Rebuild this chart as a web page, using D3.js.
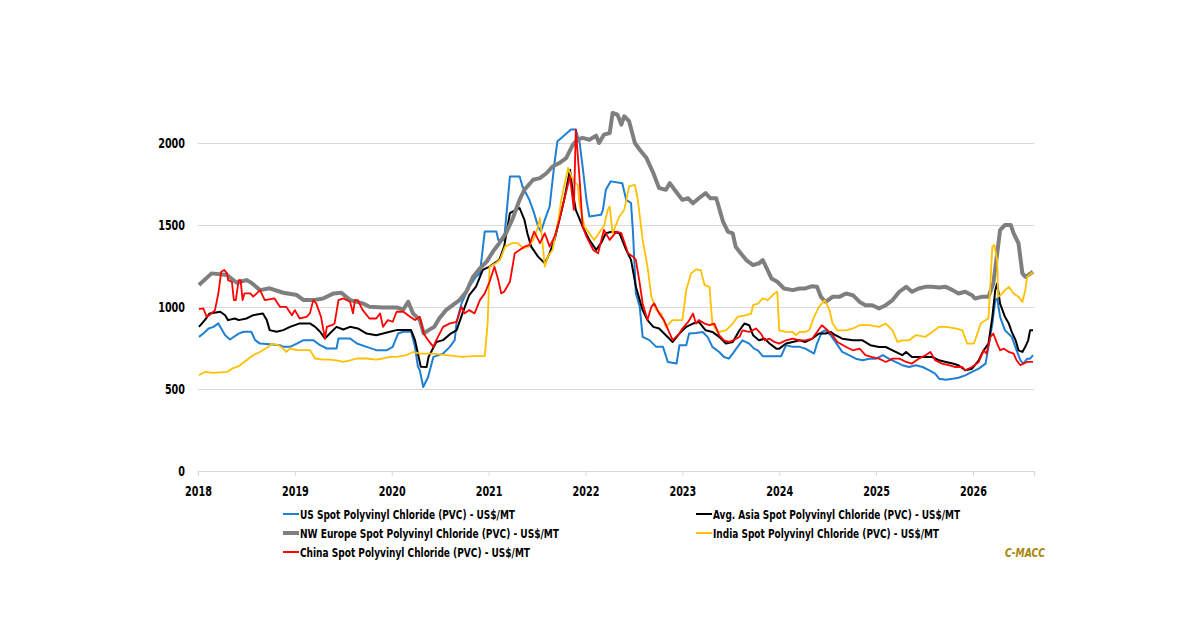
<!DOCTYPE html>
<html><head><meta charset="utf-8">
<script src="https://cdn.jsdelivr.net/npm/d3@7"></script>
<style>
html,body{margin:0;padding:0;background:#fff;}
text{font-family:"Liberation Sans Narrow","DejaVu Sans Condensed","Arial Narrow",sans-serif;font-weight:bold;}
</style></head>
<body><svg id="c" width="1200" height="627"></svg>
<script>
const yearTicks = [2018,2019,2020,2021,2022,2023,2024,2025,2026];
const valueTicks = [0,500,1000,1500,2000];
const seriesNames = [
  "US Spot Polyvinyl Chloride (PVC) - US$/MT",
  "Avg. Asia Spot Polyvinyl Chloride (PVC) - US$/MT",
  "NW Europe Spot Polyvinyl Chloride (PVC) - US$/MT",
  "India Spot Polyvinyl Chloride (PVC) - US$/MT",
  "China Spot Polyvinyl Chloride (PVC) - US$/MT"
];
const usSpot = [[2018.01,818],[2018.055,838],[2018.11,869],[2018.16,879],[2018.21,900],[2018.24,869],[2018.28,828],[2018.33,802],[2018.36,814],[2018.42,838],[2018.47,849],[2018.55,849],[2018.59,798],[2018.64,777],[2018.74,773],[2018.845,767],[2018.88,757],[2018.95,757],[2019.02,777],[2019.09,798],[2019.19,798],[2019.26,767],[2019.33,747],[2019.43,747],[2019.45,808],[2019.57,808],[2019.64,777],[2019.74,757],[2019.84,737],[2019.95,737],[2020.01,757],[2020.065,838],[2020.12,849],[2020.20,849],[2020.24,757],[2020.27,635],[2020.29,614],[2020.325,512],[2020.375,573],[2020.43,696],[2020.53,716],[2020.60,757],[2020.65,798],[2020.67,910],[2020.72,1022],[2020.80,1124],[2020.87,1185],[2020.91,1205],[2020.96,1460],[2021.08,1460],[2021.10,1409],[2021.16,1409],[2021.22,1796],[2021.32,1796],[2021.35,1735],[2021.42,1654],[2021.47,1572],[2021.51,1491],[2021.54,1460],[2021.58,1531],[2021.63,1613],[2021.68,1878],[2021.71,2010],[2021.73,2020],[2021.85,2082],[2021.90,2082],[2021.94,2000],[2021.97,1857],[2022.01,1654],[2022.04,1552],[2022.16,1562],[2022.18,1592],[2022.21,1715],[2022.26,1766],[2022.38,1755],[2022.42,1654],[2022.47,1633],[2022.49,1460],[2022.52,1083],[2022.56,1001],[2022.59,818],[2022.66,798],[2022.73,757],[2022.80,757],[2022.85,665],[2022.94,655],[2022.97,767],[2023.04,767],[2023.07,838],[2023.14,842],[2023.21,848],[2023.26,818],[2023.31,757],[2023.38,726],[2023.43,695],[2023.48,685],[2023.52,716],[2023.57,757],[2023.62,797],[2023.69,777],[2023.74,746],[2023.78,736],[2023.83,700],[2023.93,700],[2024.02,700],[2024.07,767],[2024.14,757],[2024.21,757],[2024.27,746],[2024.36,716],[2024.39,777],[2024.44,848],[2024.48,858],[2024.53,828],[2024.58,787],[2024.65,726],[2024.72,706],[2024.79,685],[2024.86,675],[2024.93,685],[2025.00,685],[2025.07,706],[2025.13,685],[2025.20,665],[2025.27,645],[2025.34,634],[2025.41,645],[2025.48,634],[2025.55,614],[2025.61,594],[2025.65,563],[2025.72,557],[2025.79,563],[2025.85,569],[2025.92,583],[2025.99,604],[2026.06,624],[2026.13,655],[2026.16,757],[2026.20,899],[2026.23,1042],[2026.25,1052],[2026.28,940],[2026.33,858],[2026.40,818],[2026.45,736],[2026.49,675],[2026.52,655],[2026.56,685],[2026.59,685],[2026.62,706]];
const asiaSpot = [[2018.01,879],[2018.07,920],[2018.12,961],[2018.23,971],[2018.28,950],[2018.31,920],[2018.38,930],[2018.42,920],[2018.50,930],[2018.57,950],[2018.67,961],[2018.71,920],[2018.74,859],[2018.81,849],[2018.88,859],[2018.95,879],[2019.05,900],[2019.155,900],[2019.21,879],[2019.26,849],[2019.31,808],[2019.36,838],[2019.43,879],[2019.50,863],[2019.57,879],[2019.65,869],[2019.74,838],[2019.84,828],[2019.91,838],[2019.98,849],[2020.05,859],[2020.15,859],[2020.20,859],[2020.24,798],[2020.27,716],[2020.30,635],[2020.36,634],[2020.38,696],[2020.46,787],[2020.53,798],[2020.61,838],[2020.67,859],[2020.73,961],[2020.80,1073],[2020.87,1124],[2020.94,1226],[2021.01,1246],[2021.11,1287],[2021.16,1368],[2021.22,1572],[2021.28,1592],[2021.32,1603],[2021.37,1531],[2021.40,1450],[2021.44,1368],[2021.51,1307],[2021.58,1266],[2021.63,1328],[2021.68,1409],[2021.73,1531],[2021.78,1654],[2021.84,1837],[2021.87,1694],[2021.90,1592],[2021.97,1491],[2022.04,1409],[2022.11,1348],[2022.16,1389],[2022.21,1450],[2022.28,1460],[2022.35,1450],[2022.42,1348],[2022.47,1287],[2022.52,1124],[2022.59,981],[2022.64,920],[2022.70,879],[2022.76,869],[2022.83,828],[2022.90,787],[2022.97,838],[2023.04,879],[2023.11,899],[2023.17,909],[2023.24,858],[2023.31,848],[2023.38,818],[2023.45,777],[2023.52,787],[2023.59,858],[2023.64,899],[2023.69,889],[2023.73,828],[2023.79,797],[2023.85,807],[2023.90,777],[2023.97,746],[2024.00,746],[2024.07,777],[2024.14,787],[2024.21,797],[2024.27,787],[2024.34,807],[2024.41,838],[2024.48,838],[2024.53,848],[2024.58,828],[2024.65,807],[2024.76,797],[2024.86,797],[2024.94,767],[2025.03,756],[2025.10,756],[2025.17,736],[2025.27,706],[2025.31,726],[2025.37,695],[2025.48,695],[2025.58,695],[2025.65,675],[2025.72,665],[2025.79,655],[2025.85,645],[2025.92,614],[2025.99,624],[2026.06,675],[2026.11,736],[2026.16,777],[2026.20,940],[2026.23,1103],[2026.25,1143],[2026.28,1021],[2026.33,940],[2026.37,899],[2026.40,848],[2026.44,797],[2026.47,736],[2026.51,726],[2026.54,757],[2026.57,797],[2026.59,858],[2026.62,858]];
const nweSpot = [[2018.01,1134],[2018.14,1205],[2018.30,1195],[2018.40,1148],[2018.50,1164],[2018.55,1148],[2018.64,1103],[2018.74,1114],[2018.88,1087],[2019.02,1073],[2019.09,1042],[2019.19,1042],[2019.29,1052],[2019.40,1083],[2019.48,1087],[2019.57,1042],[2019.70,1022],[2019.77,1001],[2019.91,997],[2020.05,997],[2020.12,985],[2020.17,1032],[2020.22,961],[2020.29,920],[2020.33,838],[2020.38,859],[2020.44,879],[2020.49,930],[2020.56,981],[2020.63,1012],[2020.70,1042],[2020.77,1093],[2020.84,1185],[2020.91,1236],[2020.98,1277],[2021.045,1338],[2021.11,1389],[2021.18,1450],[2021.25,1541],[2021.32,1654],[2021.37,1715],[2021.46,1776],[2021.53,1786],[2021.60,1817],[2021.66,1857],[2021.73,1878],[2021.80,1908],[2021.87,1990],[2021.92,2020],[2021.97,2031],[2022.04,2020],[2022.11,2045],[2022.14,2000],[2022.19,2051],[2022.25,2061],[2022.28,2183],[2022.33,2173],[2022.37,2112],[2022.40,2163],[2022.45,2133],[2022.51,2000],[2022.56,1959],[2022.63,1908],[2022.70,1817],[2022.76,1725],[2022.83,1715],[2022.87,1755],[2022.92,1715],[2023.00,1653],[2023.06,1663],[2023.11,1632],[2023.17,1663],[2023.24,1694],[2023.29,1663],[2023.35,1663],[2023.38,1602],[2023.42,1520],[2023.47,1459],[2023.52,1449],[2023.55,1368],[2023.59,1337],[2023.66,1286],[2023.73,1256],[2023.79,1266],[2023.83,1286],[2023.88,1225],[2023.92,1174],[2023.98,1154],[2024.05,1113],[2024.14,1103],[2024.21,1113],[2024.27,1113],[2024.34,1127],[2024.39,1123],[2024.43,1062],[2024.48,1031],[2024.55,1062],[2024.62,1062],[2024.69,1082],[2024.76,1072],[2024.83,1031],[2024.89,1011],[2024.96,1011],[2025.03,991],[2025.10,1011],[2025.17,1042],[2025.24,1093],[2025.31,1123],[2025.37,1093],[2025.44,1113],[2025.51,1123],[2025.58,1123],[2025.65,1119],[2025.72,1123],[2025.79,1103],[2025.85,1082],[2025.92,1093],[2025.99,1072],[2026.02,1052],[2026.09,1062],[2026.16,1062],[2026.21,1143],[2026.25,1327],[2026.28,1469],[2026.33,1500],[2026.39,1500],[2026.42,1449],[2026.47,1388],[2026.51,1205],[2026.54,1184],[2026.57,1194],[2026.62,1215]];
const indiaSpot = [[2018.01,584],[2018.07,604],[2018.16,598],[2018.30,604],[2018.35,624],[2018.42,639],[2018.50,675],[2018.57,706],[2018.64,726],[2018.725,757],[2018.76,775],[2018.83,767],[2018.88,747],[2018.91,726],[2018.95,747],[2019.02,737],[2019.09,737],[2019.155,737],[2019.21,686],[2019.29,679],[2019.36,679],[2019.43,675],[2019.50,665],[2019.57,675],[2019.64,686],[2019.74,686],[2019.84,679],[2019.91,686],[2019.98,696],[2020.05,696],[2020.15,706],[2020.22,726],[2020.29,716],[2020.43,716],[2020.56,706],[2020.73,696],[2020.84,700],[2020.96,700],[2020.99,900],[2021.01,1246],[2021.08,1270],[2021.12,1290],[2021.17,1368],[2021.24,1389],[2021.30,1389],[2021.36,1358],[2021.41,1368],[2021.46,1409],[2021.50,1470],[2021.53,1543],[2021.55,1430],[2021.58,1246],[2021.61,1307],[2021.66,1348],[2021.72,1531],[2021.75,1654],[2021.82,1848],[2021.86,1790],[2021.89,1757],[2021.92,1745],[2021.94,1620],[2021.99,1491],[2022.04,1450],[2022.09,1409],[2022.16,1470],[2022.19,1491],[2022.23,1592],[2022.25,1613],[2022.28,1450],[2022.35,1552],[2022.40,1592],[2022.45,1735],[2022.51,1745],[2022.54,1654],[2022.59,1409],[2022.64,1246],[2022.68,1063],[2022.73,981],[2022.78,961],[2022.83,879],[2022.90,920],[2023.00,920],[2023.04,1103],[2023.09,1205],[2023.14,1229],[2023.19,1225],[2023.23,1133],[2023.28,1123],[2023.31,899],[2023.35,858],[2023.38,848],[2023.45,858],[2023.52,899],[2023.57,940],[2023.66,950],[2023.71,960],[2023.73,1011],[2023.78,1021],[2023.83,1052],[2023.88,1042],[2023.95,1082],[2023.98,1093],[2024.00,858],[2024.07,848],[2024.14,848],[2024.17,828],[2024.21,848],[2024.27,848],[2024.31,858],[2024.36,940],[2024.41,1001],[2024.47,1042],[2024.52,980],[2024.55,899],[2024.60,858],[2024.69,858],[2024.76,869],[2024.83,889],[2024.93,889],[2025.03,879],[2025.10,899],[2025.17,858],[2025.22,787],[2025.27,797],[2025.34,797],[2025.41,828],[2025.51,818],[2025.58,848],[2025.65,879],[2025.72,879],[2025.82,869],[2025.89,858],[2025.94,777],[2026.01,777],[2026.04,828],[2026.08,899],[2026.13,920],[2026.16,930],[2026.20,1368],[2026.22,1378],[2026.25,1286],[2026.26,1062],[2026.30,1082],[2026.33,1103],[2026.37,1123],[2026.42,1082],[2026.47,1062],[2026.51,1031],[2026.54,1103],[2026.56,1184],[2026.62,1215]];
const chinaSpot = [[2018.01,987],[2018.055,991],[2018.09,940],[2018.14,961],[2018.175,981],[2018.21,1083],[2018.24,1215],[2018.27,1226],[2018.30,1205],[2018.31,1164],[2018.35,1154],[2018.37,1042],[2018.39,1042],[2018.42,1164],[2018.44,1164],[2018.46,1042],[2018.48,1083],[2018.54,1083],[2018.57,1063],[2018.64,1103],[2018.69,1042],[2018.79,1052],[2018.845,1001],[2018.91,1001],[2018.97,950],[2019.00,981],[2019.05,930],[2019.12,940],[2019.155,961],[2019.19,1042],[2019.22,1022],[2019.27,940],[2019.31,808],[2019.33,879],[2019.38,889],[2019.41,900],[2019.45,1042],[2019.50,1052],[2019.57,1032],[2019.60,961],[2019.62,1042],[2019.65,1042],[2019.70,981],[2019.77,930],[2019.84,930],[2019.88,961],[2019.91,879],[2019.96,920],[2020.01,910],[2020.05,971],[2020.12,971],[2020.19,940],[2020.24,920],[2020.29,940],[2020.33,838],[2020.375,798],[2020.43,757],[2020.46,798],[2020.53,879],[2020.60,900],[2020.67,910],[2020.72,1001],[2020.75,961],[2020.80,981],[2020.855,961],[2020.91,1042],[2020.96,1083],[2021.01,1154],[2021.06,1246],[2021.10,1164],[2021.13,1083],[2021.16,1093],[2021.22,1154],[2021.27,1328],[2021.32,1348],[2021.37,1368],[2021.42,1378],[2021.47,1460],[2021.53,1389],[2021.58,1450],[2021.63,1368],[2021.68,1429],[2021.73,1531],[2021.78,1654],[2021.84,1796],[2021.88,1592],[2021.90,2082],[2021.94,1776],[2021.97,1491],[2022.01,1429],[2022.08,1348],[2022.13,1328],[2022.19,1470],[2022.25,1409],[2022.32,1460],[2022.37,1450],[2022.44,1328],[2022.49,1307],[2022.52,1287],[2022.56,1144],[2022.59,1022],[2022.64,920],[2022.68,1001],[2022.71,1022],[2022.76,961],[2022.81,920],[2022.87,838],[2022.90,798],[2022.97,838],[2023.00,869],[2023.06,909],[2023.11,960],[2023.14,899],[2023.17,920],[2023.23,899],[2023.28,889],[2023.33,899],[2023.38,828],[2023.43,797],[2023.48,787],[2023.53,797],[2023.59,818],[2023.62,858],[2023.69,848],[2023.76,869],[2023.81,838],[2023.85,797],[2023.90,807],[2023.95,787],[2024.00,777],[2024.07,797],[2024.14,807],[2024.21,797],[2024.27,797],[2024.34,807],[2024.39,848],[2024.44,889],[2024.50,858],[2024.55,828],[2024.60,787],[2024.69,756],[2024.76,736],[2024.83,746],[2024.89,706],[2024.96,695],[2025.03,685],[2025.10,665],[2025.17,685],[2025.24,685],[2025.31,665],[2025.37,655],[2025.44,685],[2025.51,706],[2025.56,726],[2025.61,675],[2025.68,655],[2025.75,645],[2025.82,634],[2025.89,634],[2025.92,614],[2025.99,634],[2026.06,665],[2026.11,736],[2026.14,716],[2026.18,818],[2026.21,838],[2026.25,777],[2026.28,736],[2026.32,746],[2026.37,726],[2026.42,716],[2026.45,675],[2026.49,645],[2026.52,655],[2026.56,665],[2026.62,665]];

const series = [
  {name:seriesNames[0], data:usSpot,   color:"#1f7fd2", width:2},
  {name:seriesNames[1], data:asiaSpot, color:"#000000", width:2},
  {name:seriesNames[2], data:nweSpot,  color:"#7f7f7f", width:4},
  {name:seriesNames[3], data:indiaSpot,color:"#ffc000", width:1.8},
  {name:seriesNames[4], data:chinaSpot,color:"#ff0000", width:1.8}
];

const svg = d3.select("#c");
const x = d3.scaleLinear().domain([2018, 2026.63]).range([198, 1034]);
const y = d3.scaleLinear().domain([0, 2000]).range([471, 143]);
const FONT = "'Liberation Sans Narrow','DejaVu Sans Condensed',sans-serif";

// gridlines + y labels
const gy = svg.append("g").attr("transform","translate(198,0)")
  .call(d3.axisLeft(y).tickValues(valueTicks).tickSize(-(1034-198)).tickPadding(13).tickFormat(d3.format("d")));
gy.select(".domain").remove();
gy.selectAll(".tick line").attr("stroke","#d9d9d9").attr("stroke-width",1);
gy.selectAll(".tick").filter(d=>d===0).select("line").remove();
gy.selectAll("text").attr("font-size",14).attr("fill","#000").style("font-family",FONT).style("font-weight","bold")
  .attr("textLength",function(){return this.textContent.length*6.7;}).attr("lengthAdjust","spacingAndGlyphs");

// x axis
const gx = svg.append("g").attr("transform","translate(0,471)")
  .call(d3.axisBottom(x).tickValues(yearTicks).tickSize(5).tickPadding(10).tickFormat(d3.format("d")));
gx.select(".domain").attr("stroke","#d9d9d9").attr("stroke-width",1.2);
gx.selectAll(".tick line").attr("stroke","#d9d9d9");
gx.selectAll("text").attr("font-size",14).attr("fill","#000").style("font-family",FONT).style("font-weight","bold")
  .attr("textLength",function(){return this.textContent.length*6.7;}).attr("lengthAdjust","spacingAndGlyphs");

const line = d3.line().x(d=>x(d[0])).y(d=>y(d[1]));
svg.append("g").selectAll("path").data(series).join("path")
  .attr("d", d=>line(d.data))
  .attr("fill","none")
  .attr("stroke", d=>d.color)
  .attr("stroke-width", d=>d.width)
  .attr("stroke-linejoin","round");

// legend
const legendPos = [[283,514],[696,514],[283,533],[696,533],[283,552]];
const legendLen = [215,247,259,226,230];
const lg = svg.append("g").selectAll("g").data(series).join("g")
  .attr("transform",(d,i)=>`translate(${legendPos[i][0]},${legendPos[i][1]})`);
lg.append("line").attr("x1",0).attr("x2",16).attr("y1",0).attr("y2",0)
  .attr("stroke",d=>d.color).attr("stroke-width",d=>d.width===4?4:2);
lg.append("text").attr("x",17).attr("y",0).attr("dy","0.36em")
  .attr("font-size",13).attr("fill","#000")
  .attr("textLength",(d,i)=>legendLen[i]).attr("lengthAdjust","spacingAndGlyphs")
  .text(d=>d.name);

svg.append("text").attr("x",1005).attr("y",557)
  .attr("font-size",12).attr("font-style","italic").attr("fill","#a8860a")
  .attr("textLength",40).attr("lengthAdjust","spacingAndGlyphs").text("C-MACC");
</script></body></html>
